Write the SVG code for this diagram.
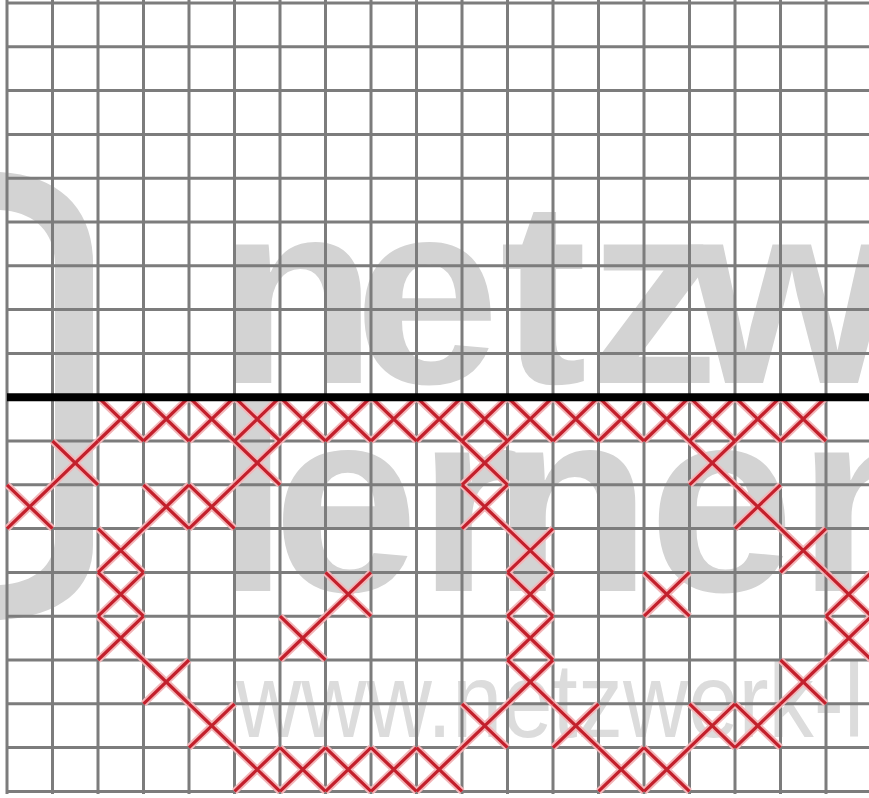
<svg xmlns="http://www.w3.org/2000/svg" xmlns:xlink="http://www.w3.org/1999/xlink" width="869" height="798" viewBox="0 0 869 798">
<style>
.wm{fill:#d3d3d3;font-family:"Liberation Sans",Arial,sans-serif;font-weight:bold;font-size:262px}
.wm2{fill:#dcdcdc;font-family:"Liberation Sans",Arial,sans-serif;font-size:105px}
.grid{stroke:#7c7c7c;stroke-width:3;fill:none}
.halo{stroke:#f3b5b8;stroke-width:7;fill:none}
.st{stroke:#c3202c;stroke-width:3.2;fill:none}
</style>
<defs>
<path id="sx" d="M0,0 L45.5,43.8 M45.5,0 L0,43.8"/>
</defs>
<rect width="869" height="798" fill="#ffffff"/>
<g id="watermark">
<path d="M0,172 C60,175 93,210 93,262 L93,545 C93,590 60,616 0,620 L0,585 C35,583 55,565 55,538 L55,265 C55,232 35,212 0,210 Z" fill="#d3d3d3"/>
<text class="wm" x="217" y="383" dx="0 -23 0 1 -29">netzw</text>
<text class="wm" x="216" y="591" dx="0 -16 -1 -28 -3 3">lernen</text>
<text class="wm2" x="236" y="737" textLength="628" lengthAdjust="spacingAndGlyphs">www.netzwerk-l</text>
</g>
<g id="grid">
<path class="grid" d="M7,0V794 M52.5,0V794 M98,0V794 M143.5,0V794 M189,0V794 M234.5,0V794 M280,0V794 M325.5,0V794 M371,0V794 M416.5,0V794 M462,0V794 M507.5,0V794 M553,0V794 M598.5,0V794 M644,0V794 M689.5,0V794 M735,0V794 M780.5,0V794 M826,0V794"/>
<path class="grid" d="M7,3H869 M7,46.8H869 M7,90.6H869 M7,134.4H869 M7,178.2H869 M7,222H869 M7,265.8H869 M7,309.6H869 M7,353.4H869 M7,441H869 M7,484.8H869 M7,528.6H869 M7,572.4H869 M7,616.2H869 M7,660H869 M7,703.8H869 M7,747.6H869 M7,791.4H869"/>
</g>
<g id="stitches-halo" class="halo">
<use href="#sx" x="98" y="397.2"/><use href="#sx" x="143.5" y="397.2"/><use href="#sx" x="189" y="397.2"/><use href="#sx" x="234.5" y="397.2"/><use href="#sx" x="280" y="397.2"/><use href="#sx" x="325.5" y="397.2"/><use href="#sx" x="371" y="397.2"/><use href="#sx" x="416.5" y="397.2"/><use href="#sx" x="462" y="397.2"/><use href="#sx" x="507.5" y="397.2"/><use href="#sx" x="553" y="397.2"/><use href="#sx" x="598.5" y="397.2"/><use href="#sx" x="644" y="397.2"/><use href="#sx" x="689.5" y="397.2"/><use href="#sx" x="735" y="397.2"/><use href="#sx" x="780.5" y="397.2"/>
<use href="#sx" x="52.5" y="441"/><use href="#sx" x="234.5" y="441"/><use href="#sx" x="462" y="441"/><use href="#sx" x="689.5" y="441"/>
<use href="#sx" x="7" y="484.8"/><use href="#sx" x="143.5" y="484.8"/><use href="#sx" x="189" y="484.8"/><use href="#sx" x="462" y="484.8"/><use href="#sx" x="735" y="484.8"/>
<use href="#sx" x="98" y="528.6"/><use href="#sx" x="507.5" y="528.6"/><use href="#sx" x="780.5" y="528.6"/>
<use href="#sx" x="98" y="572.4"/><use href="#sx" x="325.5" y="572.4"/><use href="#sx" x="507.5" y="572.4"/><use href="#sx" x="644" y="572.4"/><use href="#sx" x="826" y="572.4"/>
<use href="#sx" x="98" y="616.2"/><use href="#sx" x="280" y="616.2"/><use href="#sx" x="507.5" y="616.2"/><use href="#sx" x="826" y="616.2"/>
<use href="#sx" x="143.5" y="660"/><use href="#sx" x="507.5" y="660"/><use href="#sx" x="780.5" y="660"/>
<use href="#sx" x="189" y="703.8"/><use href="#sx" x="462" y="703.8"/><use href="#sx" x="553" y="703.8"/><use href="#sx" x="689.5" y="703.8"/><use href="#sx" x="735" y="703.8"/>
<use href="#sx" x="234.5" y="747.6"/><use href="#sx" x="280" y="747.6"/><use href="#sx" x="325.5" y="747.6"/><use href="#sx" x="371" y="747.6"/><use href="#sx" x="416.5" y="747.6"/><use href="#sx" x="598.5" y="747.6"/><use href="#sx" x="644" y="747.6"/>
</g>
<g id="stitches" class="st">
<use href="#sx" x="98" y="397.2"/><use href="#sx" x="143.5" y="397.2"/><use href="#sx" x="189" y="397.2"/><use href="#sx" x="234.5" y="397.2"/><use href="#sx" x="280" y="397.2"/><use href="#sx" x="325.5" y="397.2"/><use href="#sx" x="371" y="397.2"/><use href="#sx" x="416.5" y="397.2"/><use href="#sx" x="462" y="397.2"/><use href="#sx" x="507.5" y="397.2"/><use href="#sx" x="553" y="397.2"/><use href="#sx" x="598.5" y="397.2"/><use href="#sx" x="644" y="397.2"/><use href="#sx" x="689.5" y="397.2"/><use href="#sx" x="735" y="397.2"/><use href="#sx" x="780.5" y="397.2"/>
<use href="#sx" x="52.5" y="441"/><use href="#sx" x="234.5" y="441"/><use href="#sx" x="462" y="441"/><use href="#sx" x="689.5" y="441"/>
<use href="#sx" x="7" y="484.8"/><use href="#sx" x="143.5" y="484.8"/><use href="#sx" x="189" y="484.8"/><use href="#sx" x="462" y="484.8"/><use href="#sx" x="735" y="484.8"/>
<use href="#sx" x="98" y="528.6"/><use href="#sx" x="507.5" y="528.6"/><use href="#sx" x="780.5" y="528.6"/>
<use href="#sx" x="98" y="572.4"/><use href="#sx" x="325.5" y="572.4"/><use href="#sx" x="507.5" y="572.4"/><use href="#sx" x="644" y="572.4"/><use href="#sx" x="826" y="572.4"/>
<use href="#sx" x="98" y="616.2"/><use href="#sx" x="280" y="616.2"/><use href="#sx" x="507.5" y="616.2"/><use href="#sx" x="826" y="616.2"/>
<use href="#sx" x="143.5" y="660"/><use href="#sx" x="507.5" y="660"/><use href="#sx" x="780.5" y="660"/>
<use href="#sx" x="189" y="703.8"/><use href="#sx" x="462" y="703.8"/><use href="#sx" x="553" y="703.8"/><use href="#sx" x="689.5" y="703.8"/><use href="#sx" x="735" y="703.8"/>
<use href="#sx" x="234.5" y="747.6"/><use href="#sx" x="280" y="747.6"/><use href="#sx" x="325.5" y="747.6"/><use href="#sx" x="371" y="747.6"/><use href="#sx" x="416.5" y="747.6"/><use href="#sx" x="598.5" y="747.6"/><use href="#sx" x="644" y="747.6"/>
</g>
<line id="divider" x1="7" y1="397.2" x2="869" y2="397.2" stroke="#000000" stroke-width="8"/>
</svg>
